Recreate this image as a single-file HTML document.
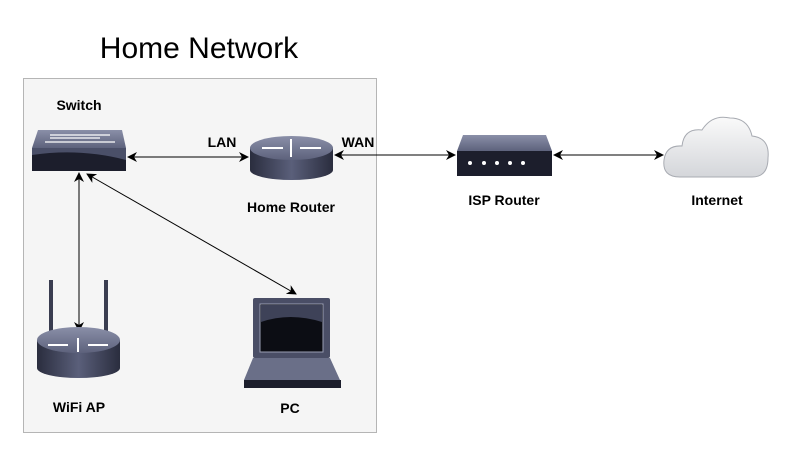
<!DOCTYPE html>
<html><head><style>
body{margin:0;width:800px;height:450px;background:#fff;overflow:hidden}
</style></head><body>
<svg width="800" height="450" xmlns="http://www.w3.org/2000/svg" font-family="Liberation Sans, sans-serif">
<defs>
<marker id="a" viewBox="0 0 10 10" refX="9" refY="5" markerWidth="10" markerHeight="10" orient="auto-start-reverse" markerUnits="userSpaceOnUse"><path d="M0,0 L10,5 L0,10 L3,5z" fill="#000"/></marker>
<linearGradient id="cyl" x1="0" x2="1"><stop offset="0" stop-color="#2a2d3e"/><stop offset="0.5" stop-color="#5a5f7a"/><stop offset="1" stop-color="#2a2d3e"/></linearGradient>
<linearGradient id="top" x1="0" y1="0" x2="0" y2="1"><stop offset="0" stop-color="#8a8fa8"/><stop offset="1" stop-color="#5d627c"/></linearGradient>
<linearGradient id="cloud" x1="0" y1="0" x2="0" y2="1"><stop offset="0" stop-color="#fafafa"/><stop offset="1" stop-color="#d4d6da"/></linearGradient>
</defs>
<text x="199" y="58" font-size="30" text-anchor="middle" fill="#000">Home Network</text>
<rect x="23.5" y="78.5" width="353" height="354" fill="#f5f5f5" stroke="#b5b5b5"/>
<line x1="128" y1="157" x2="248" y2="157" stroke="#000" marker-start="url(#a)" marker-end="url(#a)"/>
<line x1="335" y1="155" x2="455" y2="155" stroke="#000" marker-start="url(#a)" marker-end="url(#a)"/>
<line x1="554" y1="155" x2="663" y2="155" stroke="#000" marker-start="url(#a)" marker-end="url(#a)"/>
<line x1="79" y1="173" x2="79" y2="331" stroke="#000" marker-start="url(#a)" marker-end="url(#a)"/>
<line x1="87" y1="174" x2="296" y2="294" stroke="#000" marker-start="url(#a)" marker-end="url(#a)"/>
<path d="M38,130 L122,130 L126,148 L32,148 Z" fill="url(#top)"/>
<rect x="32" y="148" width="94" height="23" fill="#1c1e2c"/>
<path d="M32,148 L126,148 L126,160 Q80,148 32,155Z" fill="#4a4f68"/>
<g stroke="#fff" stroke-width="1.2"><line x1="50" y1="135" x2="110" y2="135"/><line x1="45" y1="142" x2="115" y2="142"/><line x1="50" y1="138" x2="100" y2="138"/></g>
<text x="79" y="110" font-size="14" font-weight="bold" text-anchor="middle">Switch</text>
<rect x="250" y="148" width="83" height="22" fill="url(#cyl)"/>
<ellipse cx="291.5" cy="170" rx="41.5" ry="10" fill="url(#cyl)"/>
<ellipse cx="291.5" cy="148" rx="41.5" ry="12" fill="url(#top)"/>
<g stroke="#fff" stroke-width="2"><line x1="262" y1="148" x2="283" y2="148"/><line x1="300" y1="148" x2="321" y2="148"/><line x1="291" y1="139" x2="291" y2="157"/></g>
<text x="222" y="147" font-size="14" font-weight="bold" text-anchor="middle">LAN</text>
<text x="358" y="147" font-size="14" font-weight="bold" text-anchor="middle">WAN</text>
<text x="291" y="212" font-size="14" font-weight="bold" text-anchor="middle">Home Router</text>
<path d="M463,135 L546,135 L552,151 L457,151 Z" fill="url(#top)"/>
<rect x="457" y="151" width="95" height="25" fill="#1c1e2c"/>
<g fill="#fff"><circle cx="470" cy="163" r="2"/><circle cx="484" cy="163" r="2"/><circle cx="497" cy="163" r="2"/><circle cx="510" cy="163" r="2"/><circle cx="523" cy="163" r="2"/></g>
<text x="504" y="205" font-size="14" font-weight="bold" text-anchor="middle">ISP Router</text>
<path d="M680,177 Q662,177 664,160 Q666,145 682,146 Q684,128 702,130 Q712,114 730,118 Q748,118 752,136 Q770,138 768,158 Q768,177 752,177 Z" fill="url(#cloud)" stroke="#a8abb2"/>
<text x="717" y="205" font-size="14" font-weight="bold" text-anchor="middle">Internet</text>
<rect x="49" y="280" width="4" height="58" fill="#3a3d50"/>
<rect x="104" y="280" width="4" height="58" fill="#3a3d50"/>
<rect x="37" y="340" width="83" height="28" fill="url(#cyl)"/>
<ellipse cx="78.5" cy="368" rx="41.5" ry="10" fill="url(#cyl)"/>
<ellipse cx="78.5" cy="340" rx="41.5" ry="13" fill="url(#top)"/>
<g stroke="#fff" stroke-width="2"><line x1="48" y1="345" x2="68" y2="345"/><line x1="88" y1="345" x2="108" y2="345"/><line x1="78" y1="338" x2="78" y2="352"/></g>
<text x="79" y="412" font-size="14" font-weight="bold" text-anchor="middle">WiFi AP</text>
<rect x="253" y="298" width="77" height="60" rx="2" fill="#4a4e66"/>
<rect x="260" y="304" width="63" height="48" fill="#0c0d14" stroke="#9a9eb4"/>
<path d="M261,305 L322,305 L322,322 Q290,312 261,322Z" fill="#3e4258"/>
<path d="M253,358 L330,358 L340,380 L244,380 Z" fill="#6a6f88"/>
<rect x="244" y="380" width="97" height="8" fill="#1c1e2c"/>
<text x="290" y="413" font-size="14" font-weight="bold" text-anchor="middle">PC</text>
</svg>
</body></html>
